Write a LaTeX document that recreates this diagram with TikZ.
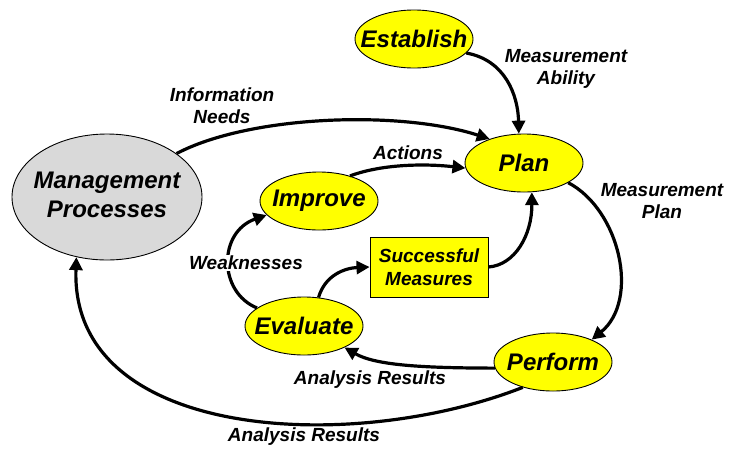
\documentclass[tikz,border=0pt]{standalone}
\usepackage{fontspec}
\setmainfont{Liberation Sans}
\usetikzlibrary{arrows.meta,shapes.geometric}
\definecolor{nodeyellow}{RGB}{255,255,0}
\definecolor{mgmtgray}{RGB}{217,217,217}
\tikzset{
  procnode/.style={ellipse,draw=black,line width=0.9pt,fill=nodeyellow,inner sep=0pt,
    minimum width=118pt,minimum height=58pt,font=\fontsize{24}{28}\selectfont\bfseries\itshape},
  mgmtnode/.style={ellipse,draw=black,line width=0.9pt,fill=mgmtgray,inner sep=0pt,
    minimum width=190pt,minimum height=126pt,font=\fontsize{24}{28}\selectfont\bfseries\itshape},
  boxnode/.style={rectangle,draw=black,line width=0.9pt,fill=nodeyellow,inner sep=0pt,
    minimum width=118pt,minimum height=60pt,align=center,font=\fontsize{19}{23}\selectfont\bfseries\itshape},
  lbl/.style={align=center,inner sep=1pt,font=\fontsize{19}{22}\selectfont\bfseries\itshape},
  conn/.style={line width=3.2pt,-{Triangle[length=13pt,width=13pt]}},
}
\newcommand{\zw}[1]{\makebox[0pt][c]{#1}}
\begin{document}
\begin{tikzpicture}[x=1pt,y=-1pt]
\path[use as bounding box] (0,0) rectangle (730,448);

% nodes
\node[procnode] (est) at (414,39) {\zw{Establish}};
\node[procnode] (plan) at (524,163) {\zw{Plan}};
\node[mgmtnode] (mgmt) at (107,197) {\zw{\begin{tabular}{@{}c@{}}Management\\[1pt]Processes\end{tabular}}};
\node[procnode] (imp) at (319,201) {\zw{Improve}};
\node[boxnode] (sm) at (429,267) {Successful\\Measures};
\node[procnode] (eval) at (304,326) {\zw{Evaluate}};
\node[procnode] (perf) at (553,362) {\zw{Perform}};

% connectors
\draw[conn] (est.-15) .. controls (505,60) and (518,95) .. (plan.100);
\draw[conn] (mgmt.32) .. controls (250,115) and (400,110) .. (plan.145);
\draw[conn] (imp.39) .. controls (385,163) and (430,164) .. (plan.185);
\draw[conn] (plan.-24) .. controls (620,210) and (640,300) .. (perf.30);
\draw[conn] (sm.east) .. controls (515,265) and (532,235) .. (plan.-75);
\draw[conn] (eval.63) .. controls (325,275) and (345,268) .. (sm.west);
\draw[conn] (eval.159) .. controls (218,292) and (218,232) .. (imp.195);
\draw[conn] (perf.186) .. controls (420,368) and (375,365) .. (eval.-28);
\draw[conn] (perf.220) .. controls (350,455) and (70,440) .. (mgmt.243);

% labels
\node[lbl] (lma) at (566,69) {Measurement\\Ability};
\node[lbl] (lin) at (222,106) {Information\\Needs};
\node[lbl] (lac) at (408,153) {Actions};
\node[lbl] (lmp) at (662,201) {Measurement\\Plan};
\node[lbl,fill=white] (lwk) at (246,263) {Weaknesses};
\node[lbl] (lar1) at (370,380) {Analysis Results};
\node[lbl] (lar2) at (304,437) {Analysis Results};
\end{tikzpicture}
\end{document}
